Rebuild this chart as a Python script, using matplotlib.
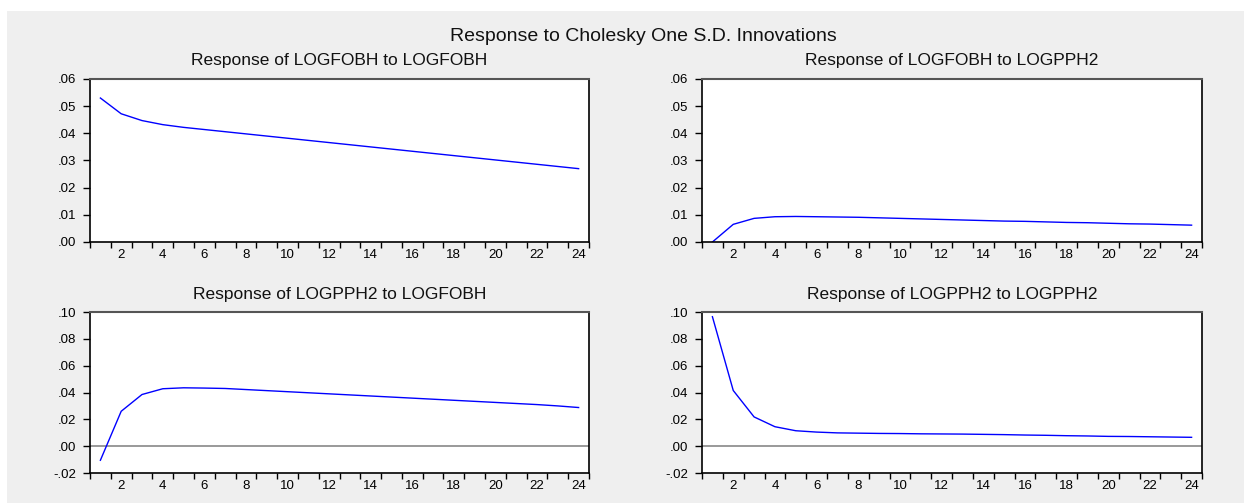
import numpy as np
import matplotlib.pyplot as plt
from matplotlib.patches import Rectangle
from matplotlib.ticker import FuncFormatter, FixedLocator

plt.rcParams['font.family'] = ['Liberation Sans', 'DejaVu Sans']

periods = np.arange(1, 25)

# impulse responses
fobh_to_fobh = [0.0530, 0.0472, 0.0447, 0.0432, 0.0422, 0.0414, 0.0406, 0.0398,
                0.0390, 0.0382, 0.0374, 0.0366, 0.0358, 0.0350, 0.0342, 0.0334,
                0.0326, 0.0318, 0.0310, 0.0302, 0.0294, 0.0286, 0.0278, 0.0270]
fobh_to_pph2 = [0.0000, 0.0065, 0.0087, 0.0093, 0.0094, 0.0093, 0.0092, 0.0091,
                0.0089, 0.0087, 0.0085, 0.0083, 0.0081, 0.0079, 0.0077, 0.0076,
                0.0074, 0.0072, 0.0071, 0.0069, 0.0067, 0.0066, 0.0064, 0.0062]
pph2_to_fobh = [-0.0105, 0.0260, 0.0385, 0.0428, 0.0435, 0.0433, 0.0430, 0.0422,
                0.0414, 0.0406, 0.0398, 0.0390, 0.0382, 0.0374, 0.0366, 0.0358,
                0.0350, 0.0342, 0.0334, 0.0326, 0.0318, 0.0310, 0.0300, 0.0288]
pph2_to_pph2 = [0.0965, 0.0415, 0.0218, 0.0145, 0.0115, 0.0105, 0.0099, 0.0097,
                0.0095, 0.0094, 0.0092, 0.0091, 0.0090, 0.0088, 0.0086, 0.0083,
                0.0081, 0.0078, 0.0076, 0.0073, 0.0072, 0.0070, 0.0068, 0.0066]

titles = ['Response of LOGFOBH to LOGFOBH', 'Response of LOGFOBH to LOGPPH2',
          'Response of LOGPPH2 to LOGFOBH', 'Response of LOGPPH2 to LOGPPH2']
series = [fobh_to_fobh, fobh_to_pph2, pph2_to_fobh, pph2_to_pph2]
top_ticks = [0.00, 0.01, 0.02, 0.03, 0.04, 0.05, 0.06]
bottom_ticks = [-0.02, 0.00, 0.02, 0.04, 0.06, 0.08, 0.10]

W, H = 1244, 503
fig = plt.figure(figsize=(W / 100, H / 100), dpi=100)
fig.patch.set_facecolor('white')
fig.patches.append(Rectangle((7 / W, 0), 1, 1 - 11 / H, transform=fig.transFigure,
                             facecolor='#efefef', edgecolor='none', zorder=-10))

fig.text(643 / W, 1 - 37 / H, 'Response to Cholesky One S.D. Innovations',
         ha='center', va='center', fontsize=14, color='#111111')

# axes boxes in pixels: left, right, top, bottom
boxes = [(90, 589, 79, 242), (702, 1202, 79, 242),
         (90, 589, 312, 473), (702, 1202, 312, 473)]


def fmt(v, pos):
    s = f'{v:.2f}'
    return s.replace('0.', '.', 1)


for i, (l, r, t, b) in enumerate(boxes):
    ax = fig.add_axes([l / W, 1 - b / H, (r - l) / W, (b - t) / H])
    ax.set_facecolor('white')
    ticks = top_ticks if i < 2 else bottom_ticks
    if i >= 2:
        ax.axhline(0, color='#999999', lw=1.4, zorder=1)
    ax.plot(periods, series[i], color='#0000ff', lw=1.0, zorder=2)
    ax.set_xlim(0.5, 24.5)
    ax.set_ylim(ticks[0], ticks[-1])
    ax.set_yticks(ticks)
    ax.yaxis.set_major_formatter(FuncFormatter(fmt))
    ax.set_xticks(np.arange(2, 25, 2))
    ax.xaxis.set_minor_locator(FixedLocator(np.arange(0.5, 25, 1)))
    ax.tick_params(axis='x', which='major', length=0, pad=5, labelsize=9.5)
    ax.tick_params(axis='x', which='minor', length=4, width=1, direction='out')
    ax.tick_params(axis='y', length=5, width=1, direction='out', pad=5, labelsize=9.5)
    for side in ['left', 'bottom', 'right']:
        ax.spines[side].set_color('black')
        ax.spines[side].set_linewidth(1.2)
    ax.spines['top'].set_color('#555555')
    ax.spines['top'].set_linewidth(1.5)
    ax.text(0.5, 1 + 18 / (b - t), titles[i], transform=ax.transAxes,
            ha='center', va='center', fontsize=12.5, color='#111111')

fig.savefig('out.png', dpi=100, facecolor=fig.get_facecolor())
